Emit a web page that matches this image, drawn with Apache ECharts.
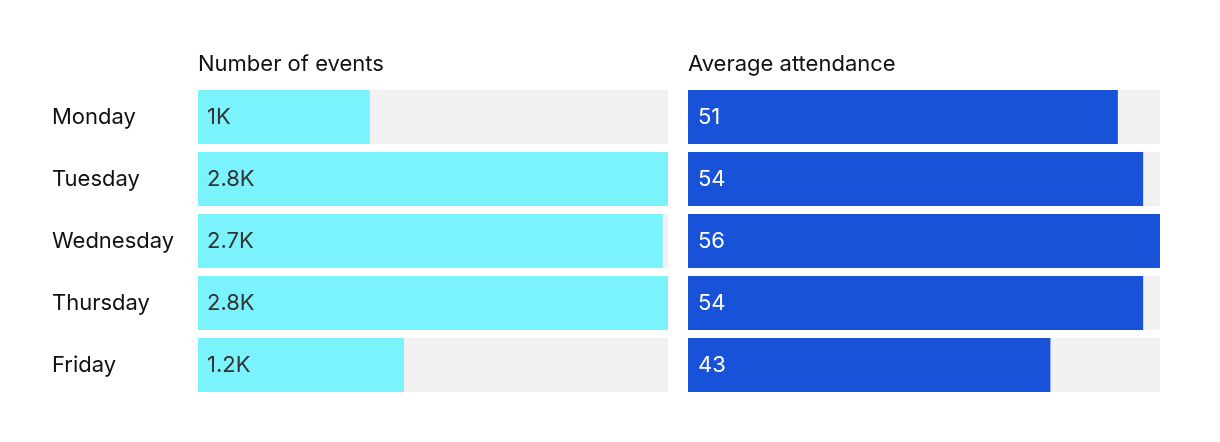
<!DOCTYPE html>
<html>
<head>
<meta charset="utf-8">
<script src="https://cdn.jsdelivr.net/npm/echarts@6/dist/echarts.min.js"></script>
<style>html,body{margin:0;padding:0;background:#fff}#c{width:1220px;height:442px}</style>
</head>
<body>
<div id="c"></div>
<script>
const days = ['Monday', 'Tuesday', 'Wednesday', 'Thursday', 'Friday'];
const events = [1017, 2780, 2749, 2780, 1218];
const attendance = [51, 54, 56, 54, 43];
const titles = ['Number of events', 'Average attendance'];

const FONT = 'Inter';
const fmtK = v => {
  const k = Math.round(v / 100) / 10;
  return (Number.isInteger(k) ? k.toFixed(0) : k.toFixed(1)) + 'K';
};

const chart = echarts.init(document.getElementById('c'));
chart.setOption({
  animation: false,
  textStyle: { fontFamily: FONT },
  title: [
    { text: titles[0], left: 198, top: 53, padding: 0, textStyle: { fontFamily: FONT, fontSize: 22, fontWeight: 'normal', color: '#111' } },
    { text: titles[1], left: 688, top: 53, padding: 0, textStyle: { fontFamily: FONT, fontSize: 22, fontWeight: 'normal', color: '#111' } }
  ],
  grid: [
    { left: 198, width: 470, top: 86, height: 310 },
    { left: 688, width: 472, top: 86, height: 310 }
  ],
  xAxis: [
    { gridIndex: 0, type: 'value', min: 0, max: Math.max(...events), show: false },
    { gridIndex: 1, type: 'value', min: 0, max: Math.max(...attendance), show: false }
  ],
  yAxis: [
    { gridIndex: 0, type: 'category', data: days, inverse: true,
      axisLine: { show: false }, axisTick: { show: false },
      axisLabel: { align: 'left', margin: 146, fontFamily: FONT, fontSize: 22, color: '#111', padding: [0, 0, 11, 0] } },
    { gridIndex: 1, type: 'category', data: days, inverse: true, show: false }
  ],
  series: [
    { type: 'bar', xAxisIndex: 0, yAxisIndex: 0, data: events, barWidth: 54,
      itemStyle: { color: '#7af3fc' },
      showBackground: true, backgroundStyle: { color: '#f1f1f1' },
      label: { show: true, position: 'insideLeft', distance: 9, formatter: p => fmtK(p.value),
        fontFamily: FONT, fontSize: 22, color: '#333' } },
    { type: 'bar', xAxisIndex: 1, yAxisIndex: 1, data: attendance, barWidth: 54,
      itemStyle: { color: '#1852d9' },
      showBackground: true, backgroundStyle: { color: '#f1f1f1' },
      label: { show: true, position: 'insideLeft', distance: 10, formatter: p => String(p.value),
        fontFamily: FONT, fontSize: 22, color: '#fff' } }
  ]
});
</script>
</body>
</html>
